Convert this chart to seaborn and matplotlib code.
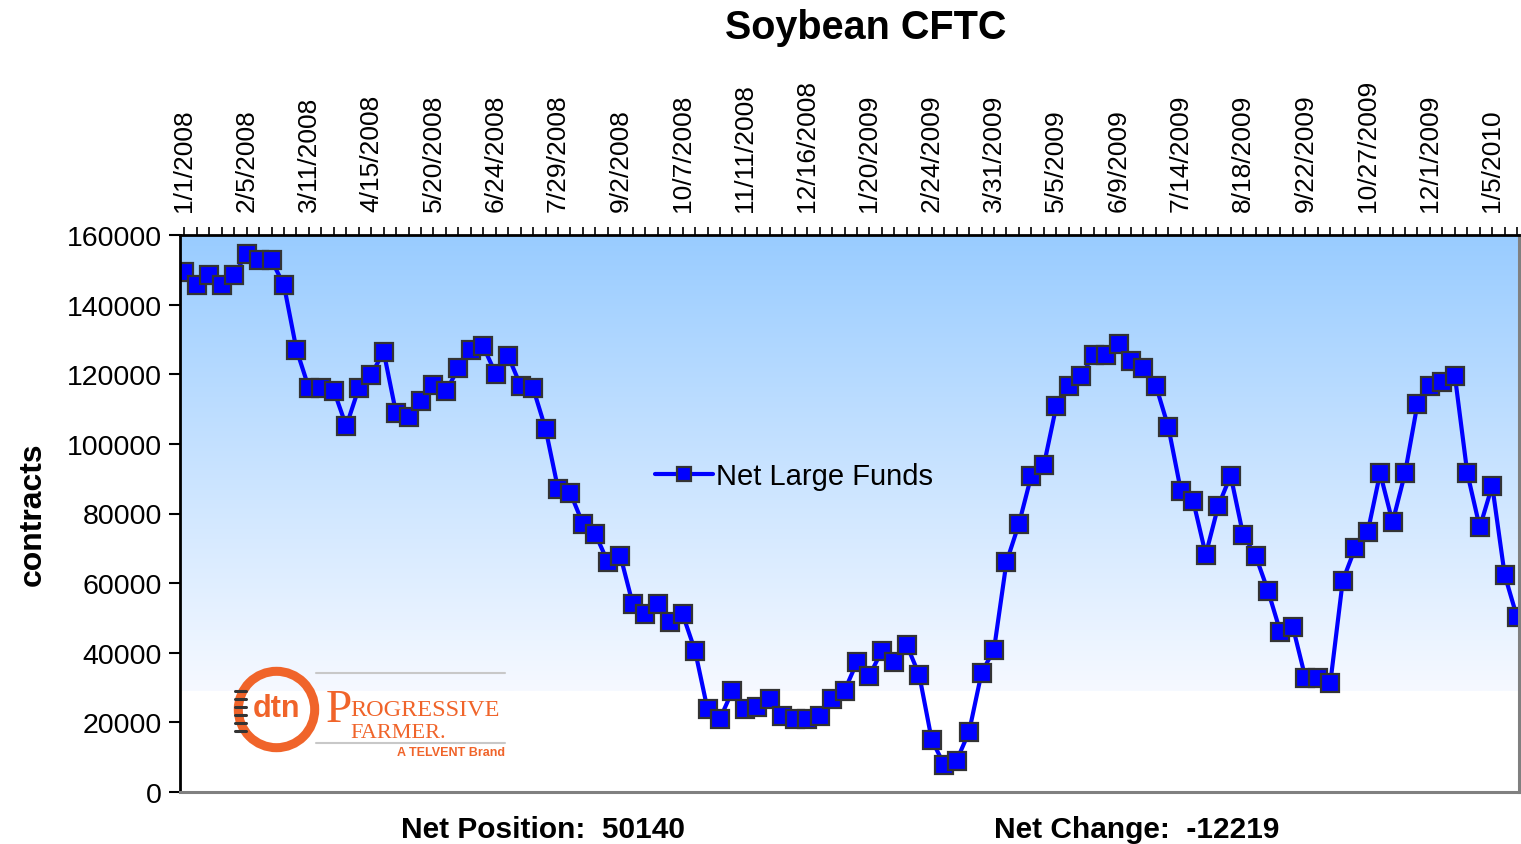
"""
Soybean CFTC - net large fund positions, weekly
"""

import numpy as np
import matplotlib
matplotlib.use("Agg")
import matplotlib.pyplot as plt
from matplotlib.colors import LinearSegmentedColormap
import seaborn as sns

# weekly net positions (contracts), 1/1/2008 .. 1/19/2010
net_2008 = [149300, 145500, 148600, 145500, 148600, 154600, 152800, 152800,
            145500, 127100, 116000, 116000, 115300, 105100, 116000, 119800,
            126500, 108800, 107700, 112200, 116900, 115100, 121700, 127100,
            128000, 120100, 125200, 116700, 116000, 104300, 87100, 85800,
            77000, 74100, 66000, 67900, 54000, 51100, 54000, 48800, 51100,
            40600, 23800, 21000, 29100, 23800, 24300, 26700, 21700, 21000,
            21000, 21900, 26700]
net_2009 = [29100, 37300, 33400, 40600, 37300, 42200, 33600, 15000, 7800,
            9000, 17300, 34200, 40900, 66000, 77000, 90900, 93800, 110800,
            116700, 119600, 125500, 125500, 128700, 123900, 121700, 116700,
            104800, 86600, 83500, 68200, 82100, 90900, 73900, 67900, 57800,
            45900, 47300, 32800, 32800, 31300, 60700, 70100, 74600, 91600,
            77500, 91600, 111500, 116700, 117700, 119600, 91600, 76000]
net_2010 = [88000, 62359, 50140]

tick_labels = ["1/1/2008", "2/5/2008", "3/11/2008", "4/15/2008", "5/20/2008",
               "6/24/2008", "7/29/2008", "9/2/2008", "10/7/2008", "11/11/2008",
               "12/16/2008", "1/20/2009", "2/24/2009", "3/31/2009", "5/5/2009",
               "6/9/2009", "7/14/2009", "8/18/2009", "9/22/2009", "10/27/2009",
               "12/1/2009", "1/5/2010"]

net_position = 50140
net_change = -12219

values = np.array(net_2008 + net_2009 + net_2010)
weeks = np.arange(len(values))

sns.set_style("white")
plt.rcParams["font.family"] = ["Liberation Sans", "DejaVu Sans"]
plt.rcParams["text.color"] = "black"
plt.rcParams["axes.labelcolor"] = "black"
plt.rcParams["xtick.color"] = "black"
plt.rcParams["ytick.color"] = "black"

W, H = 1521, 845
fig = plt.figure(figsize=(W / 100, H / 100), dpi=100)
fig.patch.set_facecolor("white")


def fx(px):
    return px / W


def fy(py):
    return 1 - py / H


rect = [fx(180), fy(793), fx(1519) - fx(180), fy(236) - fy(793)]

# gradient plot-area fill (light blue at the top fading to white)
bg = fig.add_axes(rect, zorder=0)
grad_cmap = LinearSegmentedColormap.from_list("bg", ["#F6F9FF", "#99CCFF"])
grad = np.linspace(0, 1, 256).reshape(-1, 1)
bg.imshow(grad, cmap=grad_cmap, origin="lower", aspect="auto",
          extent=[0, 1, 0.182, 1])
bg.set_xlim(0, 1)
bg.set_ylim(0, 1)
bg.axis("off")

ax = fig.add_axes(rect, zorder=1)
ax.patch.set_alpha(0)

sns.lineplot(x=weeks, y=values, ax=ax, color="#0000FF", linewidth=3,
             marker="s", markersize=12.5, markerfacecolor="#0000FF",
             markeredgecolor="#333333", markeredgewidth=1.6,
             label="Net Large Funds")

ax.set_xlim(-0.35, 107.15)
ax.set_ylim(0, 160000)

# dates along the top
ax.xaxis.tick_top()
ax.set_xticks(weeks[::5])
ax.set_xticklabels(tick_labels, rotation=90, fontsize=19)
ax.set_xticks(weeks, minor=True)
ax.tick_params(axis="x", which="both", top=True, bottom=False,
               direction="out", length=6, width=1.2, color="black", pad=11)

ax.set_yticks(np.arange(0, 160001, 20000))
ax.set_yticklabels([str(v) for v in range(0, 160001, 20000)], fontsize=20.5)
ax.tick_params(axis="y", which="major", left=True, direction="out",
               length=8, width=1.5, color="black", pad=5)

ax.set_xlabel("")
ax.set_ylabel("contracts", fontsize=23, fontweight="bold", labelpad=14)

for side in ["left", "top"]:
    ax.spines[side].set_color("black")
    ax.spines[side].set_linewidth(2)
for side in ["right", "bottom"]:
    ax.spines[side].set_color("#808080")
    ax.spines[side].set_linewidth(2.2)
    ax.spines[side].set_visible(True)

leg = ax.legend(loc="center left", bbox_to_anchor=(0.335, 0.567),
                frameon=False, fontsize=21, handlelength=2.0,
                handletextpad=0.1, markerscale=0.75)

fig.text(fx(866), fy(28), "Soybean CFTC", ha="center", va="center",
         fontsize=28.5, fontweight="bold")
fig.text(fx(543), fy(830), f"Net Position:  {net_position}", ha="center",
         va="center", fontsize=21.5, fontweight="bold")
fig.text(fx(1137), fy(830), f"Net Change:  {net_change}", ha="center",
         va="center", fontsize=21.5, fontweight="bold")

# DTN / Progressive Farmer logo
orange = "#F0642A"
ax.plot([fx(276)], [fy(710)], transform=fig.transFigure, marker="o",
        markersize=55, markerfacecolor="none", markeredgecolor=orange,
        markeredgewidth=6.5, clip_on=False)
for dy in [-18, -10, -2, 6, 14, 22]:
    fig.lines.append(plt.Line2D([fx(235), fx(246)], [fy(710 + dy), fy(710 + dy)],
                                transform=fig.transFigure, color="#333333",
                                lw=2.2))
fig.text(fx(277), fy(709), "dtn", ha="center", va="center", fontsize=22,
         fontweight="bold", color=orange)
fig.lines.append(plt.Line2D([fx(316), fx(505)], [fy(674), fy(674)],
                            transform=fig.transFigure, color="#C8C8C8", lw=1.5))
fig.lines.append(plt.Line2D([fx(316), fx(505)], [fy(744), fy(744)],
                            transform=fig.transFigure, color="#C8C8C8", lw=1.5))
fig.text(fx(326), fy(722), "P", ha="left", va="baseline", fontsize=34,
         color=orange, family="Liberation Serif")
fig.text(fx(350), fy(716), "ROGRESSIVE", ha="left", va="baseline",
         fontsize=17.5, color=orange, family="Liberation Serif")
fig.text(fx(350), fy(738), "FARMER.", ha="left", va="baseline",
         fontsize=16, color=orange, family="Liberation Serif")
fig.text(fx(505), fy(753), "A TELVENT Brand", ha="right", va="center",
         fontsize=9, fontweight="bold", color=orange)

fig.savefig("out.png", dpi=100, facecolor="white")
